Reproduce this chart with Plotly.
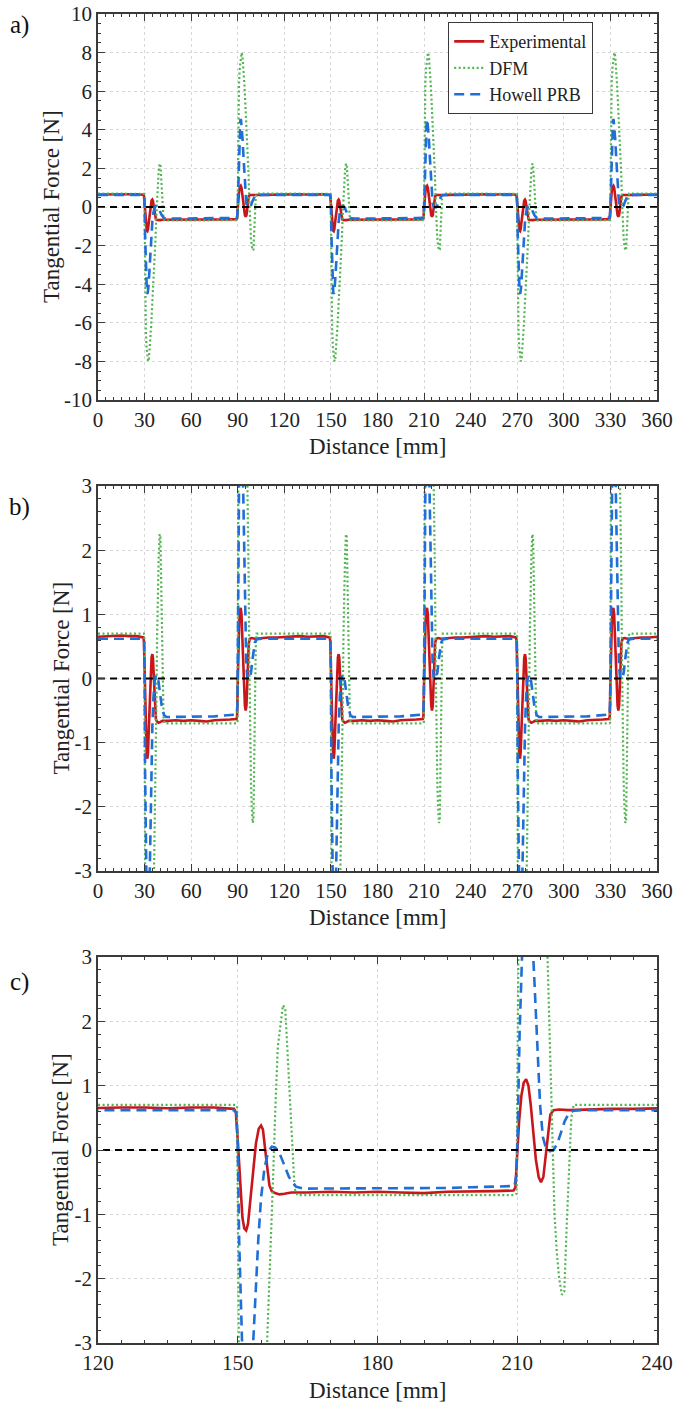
import plotly.graph_objects as go

# ---------------- data ----------------
X_RANGE = [0, 360]
ZOOM_RANGE = [120, 240]
down_edges = [30, 150, 270]     # positive -> negative transitions
up_edges = [90, 210, 330]       # negative -> positive transitions
start_x = [0, 5, 10, 15, 20, 25]
flat_dx = [15, 20, 25, 30, 35, 40, 45, 50, 55]

# Experimental
exp_start_y = [0.65, 0.66, 0.66, 0.67, 0.66, 0.66]
exp_down_dx = [-0.8, -0.4, 0.0, 0.5, 1.0, 1.4, 1.8, 2.2, 2.7, 3.3, 3.9, 4.5, 5.0, 5.4, 5.8, 6.3, 6.8, 7.3, 8.0, 9.0, 10.0, 11.5]
exp_down_y = [0.64, 0.58, 0.15, -0.55, -1.05, -1.22, -1.25, -1.15, -0.8, -0.3, 0.1, 0.33, 0.38, 0.32, 0.1, -0.25, -0.55, -0.64, -0.67, -0.69, -0.68, -0.66]
exp_neg_y = [-0.66, -0.65, -0.66, -0.65, -0.66, -0.67, -0.65, -0.65, -0.64]
exp_up_dx = [-0.8, -0.4, 0.0, 0.4, 0.9, 1.4, 1.9, 2.4, 2.9, 3.4, 4.0, 4.6, 5.1, 5.6, 6.1, 6.6, 7.1, 7.8, 9.0, 11.0]
exp_up_y = [-0.63, -0.58, -0.05, 0.45, 0.85, 1.05, 1.1, 1.0, 0.7, 0.3, -0.15, -0.42, -0.5, -0.42, -0.1, 0.3, 0.55, 0.62, 0.63, 0.62]
exp_pos_y = [0.63, 0.64, 0.64, 0.65, 0.66, 0.66, 0.65, 0.66, 0.66]

# DFM
dfm_start_y = [0.7, 0.7, 0.7, 0.7, 0.7, 0.7]
dfm_down_dx = [-0.5, -0.15, 0.0, 0.15, 0.4, 0.8, 1.3, 1.8, 2.3, 2.8, 3.4, 4.2, 5.2, 6.3, 7.0, 7.6, 8.1, 8.6, 9.1, 9.7, 10.2, 10.7, 11.2, 11.7, 12.2, 12.8, 14.0]
dfm_down_y = [0.7, 0.68, -0.5, -2.5, -4.6, -6.4, -7.3, -7.85, -8.0, -7.85, -7.3, -6.2, -4.6, -3.0, -1.7, -0.4, 0.7, 1.6, 1.9, 2.25, 2.2, 1.5, 0.9, 0.0, -0.6, -0.7, -0.7]
dfm_neg_y = [-0.7, -0.7, -0.7, -0.7, -0.7, -0.7, -0.7, -0.7, -0.7]
dfm_up_dx = [-0.5, -0.15, 0.0, 0.15, 0.4, 0.8, 1.3, 1.9, 2.5, 3.1, 3.7, 4.4, 5.2, 6.0, 6.5, 7.0, 7.5, 8.0, 8.5, 9.0, 9.6, 10.1, 10.6, 11.1, 11.6, 12.1, 12.6, 14.0]
dfm_up_y = [-0.7, -0.68, 0.5, 2.5, 4.6, 6.4, 7.2, 7.8, 8.0, 7.8, 7.2, 6.2, 4.8, 3.6, 3.0, 1.6, 0.2, -1.0, -1.6, -2.0, -2.25, -2.2, -1.2, -0.2, 0.5, 0.7, 0.7, 0.7]
dfm_pos_y = [0.7, 0.7, 0.7, 0.7, 0.7, 0.7, 0.7, 0.7, 0.7]

# Howell PRB
how_start_y = [0.62, 0.62, 0.62, 0.62, 0.62, 0.62]
how_down_dx = [-0.8, -0.3, 0.0, 0.3, 0.7, 1.1, 1.5, 1.9, 2.4, 2.9, 3.3, 3.8, 4.4, 5.0, 5.7, 6.5, 7.3, 8.0, 8.8, 9.8, 11.0, 12.5, 14.0]
how_down_y = [0.62, 0.58, 0.1, -1.4, -3.0, -4.0, -4.45, -4.5, -4.2, -3.6, -3.0, -2.2, -1.4, -0.75, -0.3, -0.03, 0.05, 0.04, -0.02, -0.2, -0.42, -0.57, -0.6]
how_neg_y = [-0.6, -0.6, -0.6, -0.6, -0.6, -0.6, -0.59, -0.58, -0.57]
how_up_dx = [-0.6, -0.2, 0.1, 0.5, 0.9, 1.3, 1.7, 2.1, 2.6, 3.1, 3.7, 4.3, 4.9, 5.5, 6.2, 7.0, 7.8, 8.6, 9.4, 10.2, 11.0, 12.0, 13.5]
how_up_y = [-0.56, -0.4, 0.3, 1.8, 3.3, 4.2, 4.55, 4.5, 4.1, 3.5, 2.6, 1.6, 0.7, 0.2, 0.02, -0.02, 0.0, 0.1, 0.28, 0.45, 0.56, 0.61, 0.62]
how_pos_y = [0.62, 0.62, 0.62, 0.62, 0.62, 0.62, 0.62, 0.62, 0.61]

zero_x = X_RANGE
zero_y = [0, 0]

# ticks
ab_x_ticks = [0, 30, 60, 90, 120, 150, 180, 210, 240, 270, 300, 330, 360]
c_x_ticks = [120, 150, 180, 210, 240]
a_y_ticks = [-10, -8, -6, -4, -2, 0, 2, 4, 6, 8, 10]
bc_y_ticks = [-3, -2, -1, 0, 1, 2, 3]


def label(v):
    return str(v)  # plain hyphen-minus as in the reference


def build(start_y, down_dx, down_y, neg_y, up_dx, up_y, pos_y):
    xs = list(start_x)
    ys = list(start_y)
    events = sorted([(e, "d") for e in down_edges] + [(e, "u") for e in up_edges])
    for edge, kind in events:
        if kind == "d":
            tdx, ty, fy = down_dx, down_y, neg_y
        else:
            tdx, ty, fy = up_dx, up_y, pos_y
        for dx, y in zip(tdx, ty):
            xs.append(edge + dx)
            ys.append(y)
        for dx, y in zip(flat_dx, fy):
            if edge + dx <= X_RANGE[1]:
                xs.append(edge + dx)
                ys.append(y)
    return xs, ys


exp_x, exp_y = build(exp_start_y, exp_down_dx, exp_down_y, exp_neg_y, exp_up_dx, exp_up_y, exp_pos_y)
dfm_x, dfm_y = build(dfm_start_y, dfm_down_dx, dfm_down_y, dfm_neg_y, dfm_up_dx, dfm_up_y, dfm_pos_y)
how_x, how_y = build(how_start_y, how_down_dx, how_down_y, how_neg_y, how_up_dx, how_up_y, how_pos_y)

# ---------------- figure ----------------
W, H = 674, 1404
FONT = "Liberation Serif"
RED = "#c8161b"
GREEN = "#52b552"
BLUE = "#1f6fd6"
AXC = "#3a3a3a"

left_px, right_px = 98, 657
panels = [(14, 400), (486, 871), (957, 1343)]


def py(p):
    return 1 - p / H


fig = go.Figure()

for i in range(3):
    sfx = "" if i == 0 else str(i + 1)
    xa, ya = "x" + sfx, "y" + sfx
    show = i == 0
    fig.add_trace(go.Scatter(x=exp_x, y=exp_y, mode="lines", name="Experimental",
                             line=dict(color=RED, width=2.6), xaxis=xa, yaxis=ya,
                             showlegend=show))
    fig.add_trace(go.Scatter(x=dfm_x, y=dfm_y, mode="lines", name="DFM",
                             line=dict(color=GREEN, width=2.2, dash="2px,2.5px"),
                             xaxis=xa, yaxis=ya, showlegend=show))
    fig.add_trace(go.Scatter(x=how_x, y=how_y, mode="lines", name="Howell PRB",
                             line=dict(color=BLUE, width=2.6, dash="10px,6px"),
                             xaxis=xa, yaxis=ya, showlegend=show))
    fig.add_trace(go.Scatter(x=zero_x, y=zero_y, mode="lines", showlegend=False,
                             line=dict(color="black", width=2, dash="7px,5px"),
                             xaxis=xa, yaxis=ya, hoverinfo="skip"))

common_axis = dict(
    automargin=False,
    showline=True, linecolor=AXC, linewidth=1.6, mirror="ticks",
    ticks="inside", ticklen=7, tickwidth=1.3, tickcolor=AXC,
    showgrid=True, gridcolor="#d8d8d8", gridwidth=1, griddash="dot",
    zeroline=False, tickfont=dict(family=FONT, size=21, color="#222"),
)

layout = dict(
    template="none",
    width=W, height=H, margin=dict(l=0, r=0, t=0, b=0, pad=0, autoexpand=False),
    paper_bgcolor="white", plot_bgcolor="white",
    font=dict(family=FONT, color="#222"),
    legend=dict(x=593 / W, y=py(22), xanchor="right", yanchor="top",
                bgcolor="white", bordercolor=AXC, borderwidth=1.2,
                font=dict(family=FONT, size=18, color="#222"),
                tracegroupgap=0, itemwidth=30),
)

x_specs = [(X_RANGE, ab_x_ticks), (X_RANGE, ab_x_ticks), (ZOOM_RANGE, c_x_ticks)]
y_specs = [([-10, 10], a_y_ticks, 0.5), ([-3, 3], bc_y_ticks, 0.2), ([-3, 3], bc_y_ticks, 0.2)]

for i in range(3):
    sfx = "" if i == 0 else str(i + 1)
    top, bot = panels[i]
    xr, xt = x_specs[i]
    yr, yt, ym = y_specs[i]
    layout["xaxis" + sfx] = dict(
        common_axis, domain=[left_px / W, right_px / W], range=xr,
        anchor="y" + sfx, tickmode="array", tickvals=xt, ticktext=[label(v) for v in xt],
        minor=dict(tickmode="linear", tick0=0, dtick=5, ticks="inside", ticklen=3.5,
                   tickcolor=AXC, tickwidth=1.1, showgrid=False),
    )
    layout["yaxis" + sfx] = dict(
        common_axis, domain=[py(bot), py(top)], range=yr,
        anchor="x" + sfx, tickmode="array", tickvals=yt, ticktext=[label(v) for v in yt],
        minor=dict(tickmode="linear", tick0=0, dtick=ym, ticks="inside", ticklen=3.5,
                   tickcolor=AXC, tickwidth=1.1, showgrid=False),
    )

fig.update_layout(**layout)

annotations = []
ytitle_x = [51, 61, 60]
xtitle_y = [447, 917, 1390]
panel_label_y = [25, 507, 982]
for i, lab in enumerate(["a)", "b)", "c)"]):
    top, bot = panels[i]
    annotations.append(dict(text="Tangential Force [N]", x=ytitle_x[i] / W, y=py((top + bot) / 2),
                            xref="paper", yref="paper", showarrow=False, textangle=-90,
                            xanchor="center", yanchor="middle",
                            font=dict(family=FONT, size=23, color="#222")))
    annotations.append(dict(text="Distance [mm]", x=(left_px + right_px) / 2 / W, y=py(xtitle_y[i]),
                            xref="paper", yref="paper", showarrow=False,
                            xanchor="center", yanchor="middle",
                            font=dict(family=FONT, size=23, color="#222")))
    annotations.append(dict(text=lab, x=19 / W, y=py(panel_label_y[i]),
                            xref="paper", yref="paper", showarrow=False,
                            xanchor="center", yanchor="middle",
                            font=dict(family=FONT, size=25, color="#111")))
fig.update_layout(annotations=annotations)

fig.write_html("out.html", config={"displayModeBar": False},
               post_script="document.body.style.margin='0px';")
